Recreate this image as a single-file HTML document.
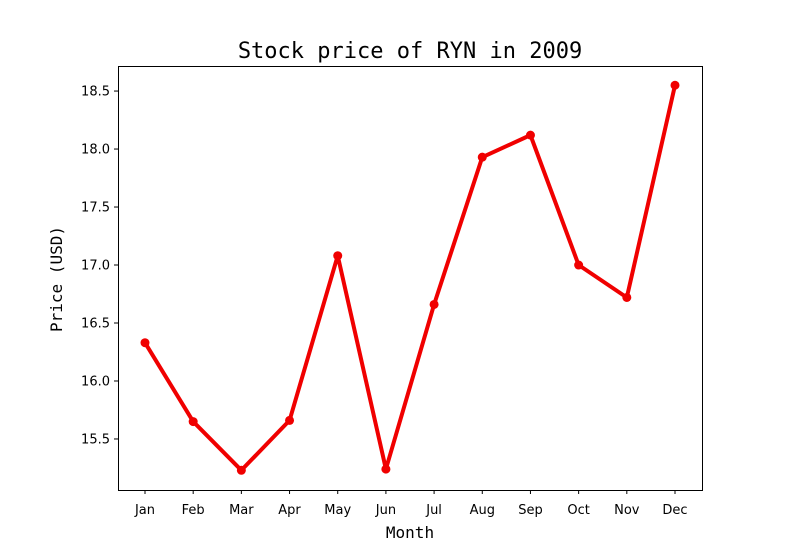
<!DOCTYPE html>
<html><head><meta charset="utf-8">
<style>
html,body{margin:0;padding:0;background:#fff;}
svg{display:block;}
text{font-family:"DejaVu Sans","Liberation Sans",sans-serif;fill:#000;}
.mono{font-family:"DejaVu Sans Mono","Liberation Mono",monospace;}
</style></head>
<body>
<svg id="chart" width="800" height="550" viewBox="0 0 800 550">
  <rect width="800" height="550" fill="#fff"/>
  <text class="mono" x="410" y="58" font-size="22" text-anchor="middle">Stock price of RYN in 2009</text>
  <text class="mono" x="410" y="538" font-size="16" text-anchor="middle">Month</text>
  <text class="mono" x="62" y="279" font-size="16" text-anchor="middle" transform="rotate(-90 62 279)">Price (USD)</text>
  <g id="ticks"></g>
  <g id="series"></g>
  <rect x="118.5" y="66.5" width="584" height="424" fill="none" stroke="#000" stroke-width="1"/>
</svg>
<script>
const months = ["Jan","Feb","Mar","Apr","May","Jun","Jul","Aug","Sep","Oct","Nov","Dec"];
const prices = [16.33,15.65,15.23,15.66,17.08,15.24,16.66,17.93,18.12,17.00,16.72,18.55];
const yTicks = [15.5,16.0,16.5,17.0,17.5,18.0,18.5];

const L=118,R=702,T=66,B=490;
const yMin=15.06,yMax=18.716;
function xPos(i){return 145+i*(675-145)/(months.length-1);}
function yPos(v){return B-(v-yMin)/(yMax-yMin)*(B-T);}
const NS="http://www.w3.org/2000/svg";
const tg=document.getElementById('ticks');
const sg=document.getElementById('series');

yTicks.forEach(v=>{
  const y=yPos(v);
  const l=document.createElementNS(NS,'line');
  l.setAttribute('x1',L-4);l.setAttribute('x2',L);l.setAttribute('y1',y);l.setAttribute('y2',y);
  l.setAttribute('stroke','#000');
  
  
  tg.appendChild(l);
  const t=document.createElementNS(NS,'text');
  t.setAttribute('x',L-8);t.setAttribute('y',y+4.5);t.setAttribute('font-size','13');t.setAttribute('text-anchor','end');
  t.textContent=v.toFixed(1);
  
  
  tg.appendChild(t);
});
months.forEach((m,i)=>{
  const x=xPos(i);
  const l=document.createElementNS(NS,'line');
  l.setAttribute('x1',x);l.setAttribute('x2',x);l.setAttribute('y1',B);l.setAttribute('y2',B+4);
  l.setAttribute('stroke','#000');
  
  
  tg.appendChild(l);
  const t=document.createElementNS(NS,'text');
  t.setAttribute('x',x);t.setAttribute('y',B+24);t.setAttribute('font-size','13');t.setAttribute('text-anchor','middle');
  t.textContent=m;
  
  
  tg.appendChild(t);
});
const pl=document.createElementNS(NS,'polyline');
pl.setAttribute('points',prices.map((v,i)=>xPos(i)+','+yPos(v)).join(' '));
pl.setAttribute('fill','none');pl.setAttribute('stroke','#f00000');pl.setAttribute('stroke-width','4');pl.setAttribute('stroke-linejoin','round');


sg.appendChild(pl);
prices.forEach((v,i)=>{
  const c=document.createElementNS(NS,'circle');
  c.setAttribute('cx',xPos(i));c.setAttribute('cy',yPos(v));c.setAttribute('r','4.5');c.setAttribute('fill','#f00000');
  
  
  sg.appendChild(c);
});
</script>
</body></html>
